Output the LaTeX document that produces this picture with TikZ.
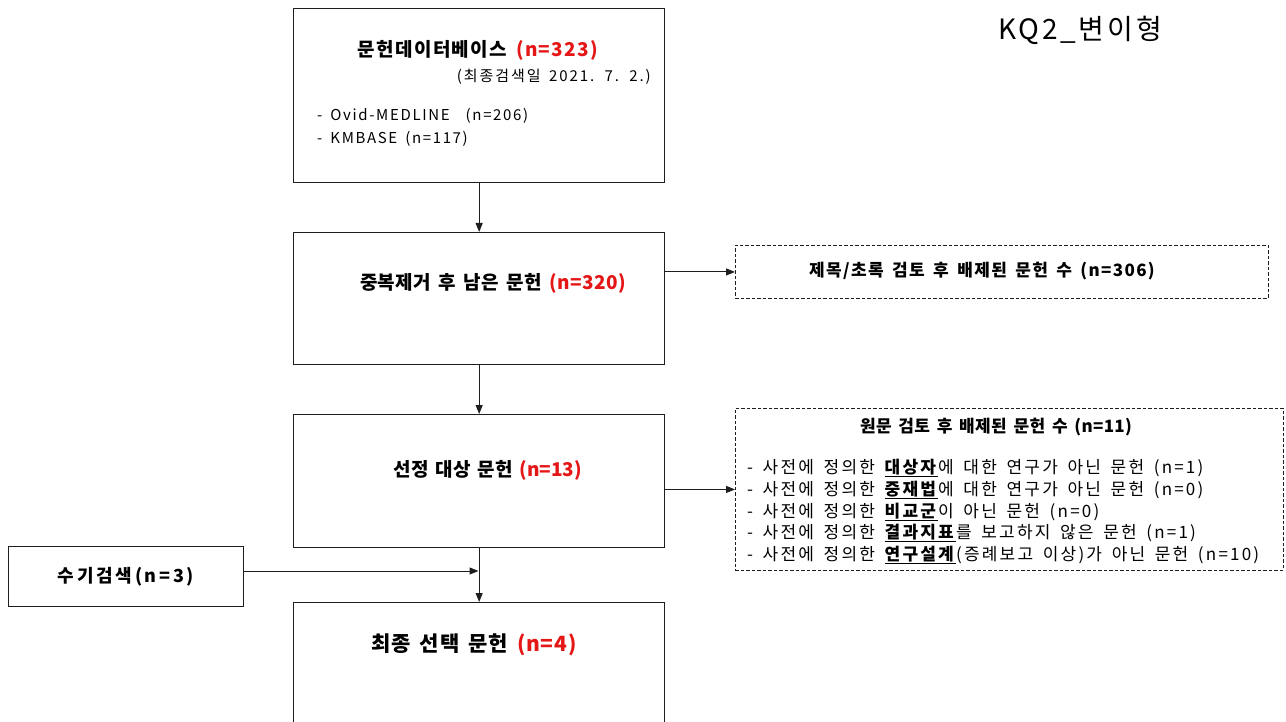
\documentclass[tikz,border=0pt]{standalone}
\usepackage{fontspec}
\setmainfont{Noto Sans CJK KR}[WordSpace=1.6]
\usetikzlibrary{arrows.meta}
\definecolor{nred}{RGB}{228,22,22}
\definecolor{lin}{RGB}{30,30,30}
\newcommand{\fsz}[3]{\fontsize{#1}{#2}\selectfont\addfontfeature{LetterSpace=#3}}
\begin{document}
\begin{tikzpicture}[x=1pt,y=-1pt,
  box/.style={draw=lin,line width=1.3pt,anchor=north west,inner sep=0},
  dbox/.style={draw=lin,line width=0.9pt,dash pattern=on 3.5pt off 2pt,anchor=north west,inner sep=0},
  arr/.style={draw=lin,line width=1pt,-{Triangle[length=9pt,width=7pt]}},
  txt/.style={inner sep=0},
  sub/.style={font=\fsz{15}{17}{13},inner sep=0},
  lst/.style={font=\fsz{15}{17}{11},inner sep=0,anchor=west},
  dlst/.style={font=\fsz{17}{19}{13},inner sep=0,anchor=west}]
\useasboundingbox (0,0) rectangle (1286,722);
% boxes
\node[box,minimum width=371pt,minimum height=174pt] (b1) at (293,8) {};
\node[box,minimum width=371pt,minimum height=132pt] (b2) at (293,232) {};
\node[box,minimum width=371pt,minimum height=133pt] (b3) at (293,414) {};
\node[box,minimum width=371pt,minimum height=140pt] (b4) at (293,602) {};
\node[box,minimum width=235pt,minimum height=60pt] (hand) at (8,546) {};
\node[dbox,minimum width=533pt,minimum height=53pt] (d1) at (735,245) {};
\node[dbox,minimum width=548pt,minimum height=162pt] (d2) at (735,408) {};
% title
\node[txt,font=\fsz{28}{32}{10}] (title) at (1080,30) {KQ2\_변이형};
% box 1 text
\node[txt,font=\bfseries\fsz{19}{22}{7}] (t1) at (478,50) {문헌데이터베이스 \textcolor{nred}{(n=323)}};
\node[sub,anchor=east] (t1s) at (651,77) {(최종검색일 2021. 7. 2.)};
\node[lst] (t1a) at (317,116) {- Ovid-MEDLINE \ (n=206)};
\node[lst] (t1b) at (317,139) {- KMBASE (n=117)};
% other box texts
\node[txt,font=\bfseries\fsz{19}{22}{2}] (t2) at (493,283) {중복제거 후 남은 문헌 \textcolor{nred}{(n=320)}};
\node[txt,font=\bfseries\fsz{19}{22}{0}] (t3) at (488,470) {선정 대상 문헌 \textcolor{nred}{(n=13)}};
\node[txt,font=\bfseries\fsz{21}{24}{4}] (t4) at (474,645) {최종 선택 문헌 \textcolor{nred}{(n=4)}};
\node[txt,font=\bfseries\fsz{18}{21}{15}] (th) at (126,577) {수기검색(n=3)};
\node[txt,font=\bfseries\fsz{17}{20}{8}] (td1) at (982,271) {제목/초록 검토 후 배제된 문헌 수 (n=306)};
\node[txt,font=\bfseries\fsz{17}{20}{2}] (td2) at (996,427) {원문 검토 후 배제된 문헌 수 (n=11)};
\node[dlst] (l1) at (747,468) {- 사전에 정의한 \underline{\textbf{대상자}}에 대한 연구가 아닌 문헌 (n=1)};
\node[dlst] (l2) at (747,490) {- 사전에 정의한 \underline{\textbf{중재법}}에 대한 연구가 아닌 문헌 (n=0)};
\node[dlst] (l3) at (747,512) {- 사전에 정의한 \underline{\textbf{비교군}}이 아닌 문헌 (n=0)};
\node[dlst] (l4) at (747,533) {- 사전에 정의한 \underline{\textbf{결과지표}}를 보고하지 않은 문헌 (n=1)};
\node[dlst] (l5) at (747,555) {- 사전에 정의한 \underline{\textbf{연구설계}}(증례보고 이상)가 아닌 문헌 (n=10)};
% connectors
\coordinate (j) at (478.5,571);
\draw[arr] (b1.south) -- (b2.north);
\draw[arr] (b2.south) -- (b3.north);
\draw[arr] (b3.south) -- (b4.north);
\draw[arr] (b2.east |- d1.west) -- (d1.west);
\draw[arr] (b3.east |- d2.west) -- (d2.west);
\draw[arr] (hand.east |- j) -- (j);
\end{tikzpicture}
\end{document}
